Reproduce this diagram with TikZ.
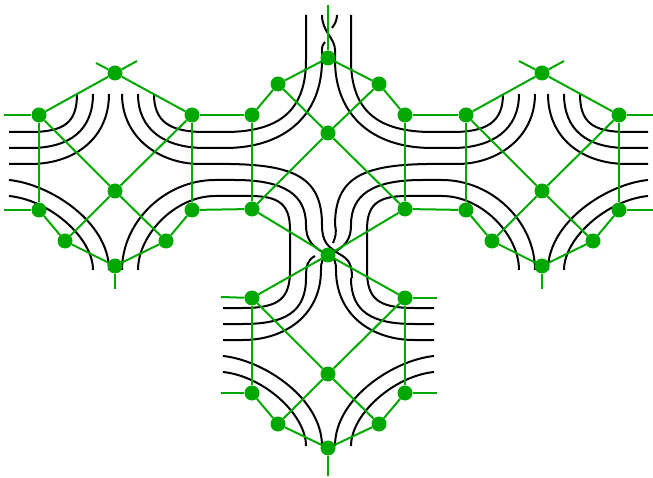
\documentclass[tikz,border=0pt]{standalone}
\usepackage{xcolor}
\usetikzlibrary{positioning}
\definecolor{hexgreen}{RGB}{0,168,0}
\tikzset{
    vtx/.style={circle, fill=hexgreen, minimum size=15pt, inner sep=0},
    edge/.style={draw=hexgreen, line width=2pt},
    strand/.style={draw=black, line width=2pt},
    mirror/.style={xshift=657pt, xscale=-1},
}
\begin{document}
\begin{tikzpicture}[x=1pt, y=-1pt]
    \useasboundingbox (0,0) rectangle (653,478);

    % strands, left half and its mirror image
    \foreach \side in {,mirror} {
    \begin{scope}[\side]
        \draw[strand] (77,94) .. controls (77,122) and (65,132) .. (30,132) -- (9,132);
        \draw[strand] (93,94) .. controls (93,130) and (70,148) .. (30,148) -- (9,148);
        \draw[strand] (109,94) .. controls (109,138) and (75,164) .. (30,164) -- (9,164);
        \draw[strand] (109,270) .. controls (109,222) and (50,184) .. (9,180);
        \draw[strand] (93,270) .. controls (93,238) and (50,200) .. (9,196);
        \draw[strand] (154,94) .. controls (154,122) and (170,132) .. (205,132) -- (225,132) .. controls (280,132) and (306,110) .. (306,60) -- (306,15);
        \draw[strand] (138,94) .. controls (138,130) and (165,148) .. (205,148) -- (225,148) .. controls (285,148) and (322,115) .. (322,60) -- (322,50);
        \draw[strand] (122,94) .. controls (122,138) and (160,164) .. (200,164) -- (230,164) .. controls (295,165) and (322,178) .. (322,225);
        \draw[strand] (122,270) .. controls (122,222) and (165,180) .. (215,180) -- (235,180) .. controls (285,180) and (306,195) .. (306,225) .. controls (306,240) and (312,247) .. (328,255) .. controls (335,258) and (336,262) .. (336,270) .. controls (336,315) and (372,340) .. (414,340) -- (434,340);
        \draw[strand] (138,270) .. controls (138,235) and (175,196) .. (215,196) -- (250,196) .. controls (280,196) and (290,205) .. (290,230) -- (290,270) .. controls (290,298) and (280,308) .. (243,308) -- (223,308);
        \draw[strand] (306,278) .. controls (306,312) and (285,324) .. (243,324) -- (223,324);
        \draw[strand] (322,446) .. controls (322,398) and (263,360) .. (223,356);
        \draw[strand] (306,446) .. controls (306,414) and (263,376) .. (223,372);
    \end{scope}
    }

    % crossings
    \draw[strand] (322,225) .. controls (322,242) and (328,246) .. (336,252) .. controls (346,258) and (352,260) .. (352,278);
    \draw[strand] (335,225) .. controls (337,233) and (335,238) .. (333,243);
    \draw[strand] (315,256) .. controls (308,260) and (306,264) .. (306,278);
    \draw[strand] (335,50) .. controls (335,38) and (322,32) .. (322,15);
    \draw[strand] (322,50) .. controls (322,46) and (323,44) .. (325,42);
    \draw[strand] (332,28) .. controls (335,24) and (337,20) .. (337,15);

    % vertices
    \foreach \n/\x/\y in {ltop/115/73, lul/39/115, lur/192/115, lmid/115/191, lll/39/210, llr/192/210, lsl/65/241, lsr/166/241, lbot/115/266,
        ctop/328/58, csl/278/84, csr/379/84, cul/252/115, cur/405/115, cmid/328/133, cll/252/209, clr/405/209,
        dtop/328/255, dul/252/298, dur/405/298, dmid/328/374, dll/252/393, dlr/405/393, dsl/278/424, dsr/379/424, dbot/328/448,
        rtop/542/73, rul/466/115, rur/619/115, rmid/542/191, rll/466/210, rlr/619/210, rsl/492/241, rsr/593/241, rbot/542/266}
        \node[vtx] (\n) at (\x,\y) {};

    % free ends
    \foreach \n/\x/\y in {a1/4/115, a2/4/210, a3/115/289, a4/96/63, a5/137/61, a6/328/5, a7/221/297, a8/221/393, a9/437/298, a10/437/393,
        a11/328/476, a12/653/115, a13/653/210, a14/542/289, a15/519/61, a16/564/61}
        \coordinate (\n) at (\x,\y);

    \foreach \p in {l,d,r}
        \foreach \a/\b in {top/ul, top/ur, ul/mid, ur/mid, ul/ll, ur/lr, mid/sl, mid/sr, ll/sl, lr/sr, sl/bot, sr/bot}
            \draw[edge] (\p\a) -- (\p\b);

    \foreach \a/\b in {ctop/csl, ctop/csr, csl/cul, csr/cur, csl/cmid, csr/cmid, cmid/cll, cmid/clr, cul/cll, cur/clr, cll/dtop, clr/dtop,
        lur/cul, llr/cll, cur/rul, clr/rll,
        a1/lul, a2/lll, lbot/a3, ltop/a4, ltop/a5, ctop/a6, dul/a7, dll/a8, dur/a9, dlr/a10, dbot/a11, rur/a12, rlr/a13, rbot/a14, rtop/a15, rtop/a16}
        \draw[edge] (\a) -- (\b);
\end{tikzpicture}
\end{document}
